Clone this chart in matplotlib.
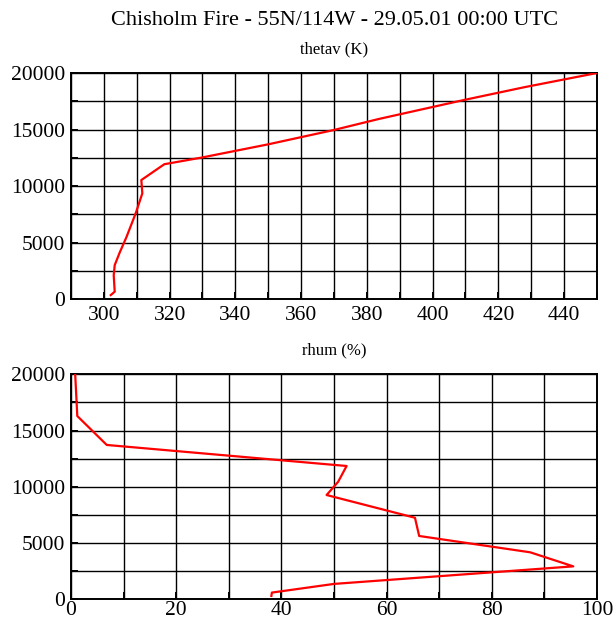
import matplotlib.pyplot as plt
import numpy as np
from matplotlib.ticker import MultipleLocator

plt.rcParams.update({
    "font.family": "Liberation Serif",
    "font.size": 15,
    "axes.linewidth": 1.4,
    "xtick.direction": "in",
    "ytick.direction": "in",
})

TITLE = "Chisholm Fire - 55N/114W - 29.05.01 00:00 UTC"

# virtual potential temperature profile (K) vs height (m)
thetav = [302.1, 303.3, 303.0, 303.3, 304.8, 306.9, 309.7, 311.7, 311.4,
          318.4, 329.6, 350.0, 370.0, 383.6, 409.5, 428.0, 450.0]
thetav_z = [350, 650, 2100, 3000, 4100, 5500, 7600, 9350, 10530,
            11930, 12510, 13690, 14960, 15930, 17610, 18750, 20000]

# relative humidity profile (%) vs height (m)
rhum = [38.1, 38.2, 50.0, 95.5, 87.3, 66.2, 65.4, 48.6, 50.8, 52.4,
        6.8, 1.2, 0.8]
rhum_z = [300, 600, 1370, 2930, 4180, 5630, 7250, 9270, 10450, 11850,
          13720, 16290, 20000]

fig = plt.figure(figsize=(6.13, 6.23), dpi=100)
ax1 = fig.add_axes([0.1158, 0.520, 0.858, 0.3628])
ax2 = fig.add_axes([0.1158, 0.038, 0.858, 0.3612])


def style(ax, xlim, xmaj, xmin, label, xpad):
    ax.set_xlim(*xlim)
    ax.set_ylim(0, 20000)
    ax.xaxis.set_major_locator(MultipleLocator(xmaj))
    ax.xaxis.set_minor_locator(MultipleLocator(xmin))
    ax.yaxis.set_major_locator(MultipleLocator(5000))
    ax.yaxis.set_minor_locator(MultipleLocator(2500))
    ax.grid(which="both", color="black", linewidth=1.0)
    ax.tick_params(which="both", length=5, width=1.4, labelsize=15.5)
    ax.tick_params(axis="x", pad=xpad)
    ax.tick_params(axis="y", pad=4)
    ax.set_axisbelow(True)
    ax.set_title(label, fontsize=12, pad=14)


ax1.plot(thetav, thetav_z, color="red", linewidth=1.6, zorder=3)
style(ax1, (290, 450), 20, 10, "thetav (K)", 5)
ax1.set_xticks(np.arange(300, 441, 20))

ax2.plot(rhum, rhum_z, color="red", linewidth=1.6, zorder=3)
style(ax2, (0, 100), 20, 10, "rhum (%)", 1.5)

fig.text(0.546, 0.967, TITLE, ha="center", va="center", fontsize=16)

fig.savefig("out.png", dpi=100)
